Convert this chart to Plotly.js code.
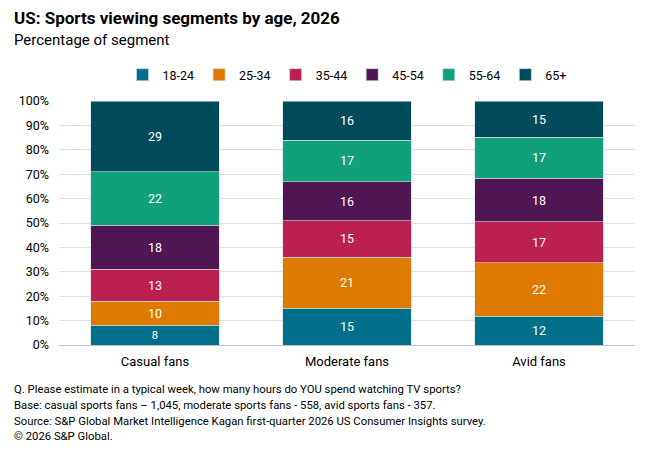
<!DOCTYPE html>
<html>
<head>
<meta charset="utf-8">
<script src="https://cdn.plot.ly/plotly-3.0.1.min.js"></script>
<style>
  html, body { margin: 0; padding: 0; background: #fff; }
  #chart { width: 660px; height: 452px; }
</style>
</head>
<body>
<div id="chart"></div>
<script>
// Fan segments along the x axis
const segments = ['Casual fans', 'Moderate fans', 'Avid fans'];

// Age groups stacked inside each bar
const ageGroups = ['18-24', '25-34', '35-44', '45-54', '55-64', '65+'];

// Share of each segment per age group (%)
const age18to24 = [8, 15, 12];
const age25to34 = [10, 21, 22];
const age35to44 = [13, 15, 17];
const age45to54 = [18, 16, 18];
const age55to64 = [22, 17, 17];
const age65plus = [29, 16, 15];

const yTicks = [0, 10, 20, 30, 40, 50, 60, 70, 80, 90, 100];
const yTickLabels = ['0%', '10%', '20%', '30%', '40%', '50%', '60%', '70%', '80%', '90%', '100%'];

const seriesValues = [age18to24, age25to34, age35to44, age45to54, age55to64, age65plus];
const colors = ['#006F8A', '#DE7A00', '#BC2050', '#501553', '#10A07A', '#014A5C'];

const FONT = 'Roboto, "Liberation Sans", sans-serif';

const traces = ageGroups.map((name, i) => ({
  type: 'bar',
  name: name,
  x: segments,
  y: seriesValues[i],
  text: seriesValues[i].map(String),
  textposition: 'inside',
  insidetextanchor: 'middle',
  textangle: 0,
  textfont: { family: FONT, size: 12.5, color: '#ffffff' },
  marker: { color: colors[i], line: { color: '#d9dde0', width: 0.6 } },
  hoverinfo: 'skip'
}));

const footnotes = [
  'Q. Please estimate in a typical week, how many hours do YOU spend watching TV sports?',
  'Base: casual sports fans – 1,045, moderate sports fans - 558, avid sports fans - 357.',
  'Source: S&P Global Market Intelligence Kagan first-quarter 2026 US Consumer Insights survey.',
  '© 2026 S&P Global.'
];

// Text blocks placed in figure pixels (x, y = left edge, vertical middle)
const textBlocks = [
  { text: '<b>US: Sports viewing segments by age, 2026</b>', px: 12, py: 18, size: 17 },
  { text: 'Percentage of segment', px: 12, py: 40, size: 15 }
].concat(footnotes.map((t, i) => ({ text: t, px: 12, py: 389.5 + i * 15.8, size: 11.3 })));

const L = 59, R = 25, T = 101, B = 107, W = 660, H = 452;
const annotations = textBlocks.map(b => ({
  text: b.text,
  xref: 'paper', yref: 'paper', xanchor: 'left', yanchor: 'middle', showarrow: false,
  x: (b.px - L) / (W - L - R),
  y: 1 - (b.py - T) / (H - T - B),
  font: { family: FONT, size: b.size, color: '#000' }
}));

const layout = {
  width: W, height: H,
  margin: { l: L, r: R, t: T, b: B },
  paper_bgcolor: '#ffffff',
  plot_bgcolor: '#ffffff',
  barmode: 'stack',
  barnorm: 'percent',
  bargap: 0.333,
  font: { family: FONT, size: 12, color: '#000' },
  showlegend: true,
  legend: {
    orientation: 'h', xref: 'paper', yref: 'paper',
    x: 0.5, xanchor: 'center', y: 1 + (101 - 75) / (452 - 101 - 107), yanchor: 'middle',
    font: { family: FONT, size: 12.5, color: '#000' },
    itemwidth: 30, tracegroupgap: 0, traceorder: 'normal'
  },
  xaxis: {
    type: 'category', showgrid: false, ticks: '', showline: true,
    linecolor: '#bfc3c6', linewidth: 1, ticklabelstandoff: 4,
    tickfont: { family: FONT, size: 13, color: '#000' }
  },
  yaxis: {
    range: [0, 100], tickvals: yTicks, ticktext: yTickLabels,
    showgrid: true, gridcolor: '#e0e0e0', gridwidth: 1,
    zeroline: false, showline: false, ticks: '', ticklabelstandoff: 9,
    tickfont: { family: FONT, size: 12.5, color: '#000' }
  },
  annotations: annotations
};

Plotly.newPlot('chart', traces, layout, { displayModeBar: false, staticPlot: true });
</script>
</body>
</html>
